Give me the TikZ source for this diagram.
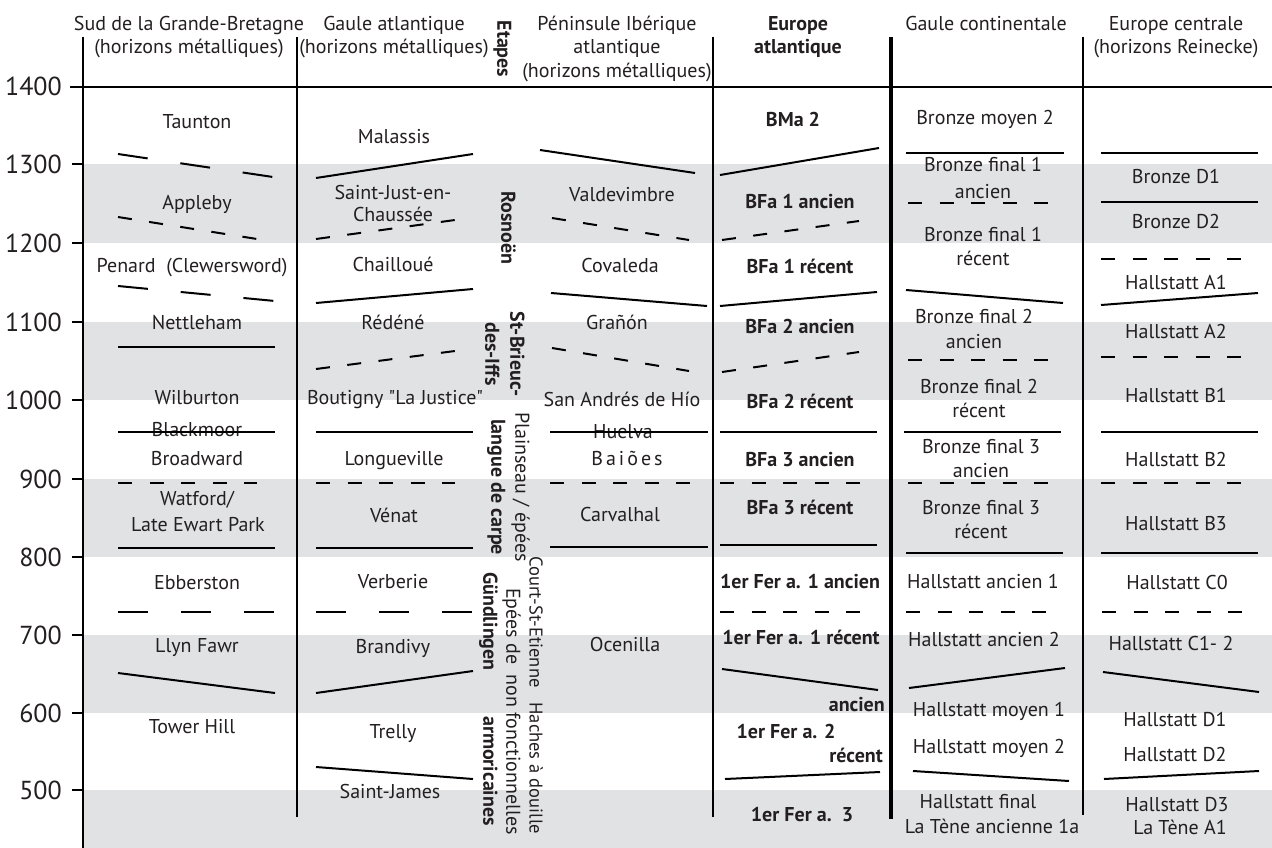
\documentclass[tikz,border=0pt]{standalone}
\usepackage{fontspec}
\setmainfont{PT Sans}[Ligatures=TeXOff]
\definecolor{txt}{RGB}{35,31,32}
\definecolor{band}{RGB}{225,226,228}
\begin{document}
\begin{tikzpicture}[x=1pt,y=-1pt,
  every node/.style={inner sep=0pt, text=txt},
  cell/.style={font=\fontsize{20}{24}\selectfont, text height=13.5pt, text depth=0pt},
  bcell/.style={font=\fontsize{20}{24}\selectfont\bfseries, text height=13.5pt, text depth=0pt},
  yr/.style={font=\fontsize{26}{30}\selectfont, text height=18pt, text depth=0pt, anchor=east},
  rot/.style={cell, rotate=-90},
  srot/.style={font=\fontsize{18.5}{22}\selectfont, text height=13pt, text depth=0pt, rotate=-90},
  brot/.style={bcell, rotate=-90},
  sepline/.style={line width=1.5pt},
  cl/.style={line width=2pt},
  ld/.style={cl, dash pattern=on 30pt off 33pt},
  sd/.style={cl, dash pattern=on 14pt off 17.5pt},
]
\useasboundingbox (0,0) rectangle (1272,848);
% grey bands
\fill[band] (84,164) rectangle (1272,243);
\fill[band] (84,322) rectangle (1272,400);
\fill[band] (84,479) rectangle (1272,557);
\fill[band] (84,635) rectangle (1272,713);
\fill[band] (84,790) rectangle (1272,848);
% axis, header line, ticks
\draw[line width=2.5pt] (83,37) -- (83,848);
\draw[line width=2.5pt] (70,87) -- (1272,87);
\foreach \yy in {164,243,322,400,479,557,635,713,790}
  \draw[line width=2.5pt] (72,\yy) -- (83,\yy);
% years
\node[yr] (y1400) at (62,87) {1400};
\node[yr] (y1300) at (62,164) {1300};
\node[yr] (y1200) at (62,243) {1200};
\node[yr] (y1100) at (62,322) {1100};
\node[yr] (y1000) at (62,400) {1000};
\node[yr] (y900) at (62,479) {900};
\node[yr] (y800) at (62,557) {800};
\node[yr] (y700) at (62,635) {700};
\node[yr] (y600) at (62,713) {600};
\node[yr] (y500) at (62,790) {500};
% column separators
\draw[sepline] (297,37) -- (297,817);
\draw[sepline] (713,37) -- (713,817);
\draw[line width=4.5pt] (891,37) -- (891,819);
\draw[sepline] (1083,37) -- (1083,815);
% headers
\node[cell] (h1a) at (189,24) {Sud de la Grande-Bretagne};
\node[cell] (h1b) at (189,47) {(horizons métalliques)};
\node[cell] (h2a) at (394,24) {Gaule atlantique};
\node[cell] (h2b) at (394,47) {(horizons métalliques)};
\node[brot] (h0) at (504,49) {Etapes};
\node[cell] (h3a) at (617,24) {Péninsule Ibérique};
\node[cell] (h3b) at (617,47) {atlantique};
\node[cell] (h3c) at (617,71) {(horizons métalliques)};
\node[bcell] (h4a) at (798,24) {Europe};
\node[bcell] (h4b) at (798,47) {atlantique};
\node[cell] (h5a) at (986,24) {Gaule continentale};
\node[cell] (h6a) at (1176,24) {Europe centrale};
\node[cell] (h6b) at (1176,47) {(horizons Reinecke)};
% ---------- column 1
\node[cell] (a1) at (197,122) {Taunton};
\draw[ld] (118,154) -- (273,177);
\node[cell] (a2) at (197,203) {Appleby};
\draw[sd] (118,217) -- (257,239);
\node[cell] (a3) at (192,266) {Penard\ \ (Clewersword)};
\draw[ld] (118,286) -- (275,301);
\node[cell] (a4) at (197,323) {Nettleham};
\draw[cl] (118,347) -- (275,347);
\node[cell] (a5) at (197,398) {Wilburton};
\node[cell] (a6) at (197,430) {Blackmoor};
\draw[cl] (118,432) -- (275,432);
\node[cell] (a7) at (197,459) {Broadward};
\draw[sd] (118,483) -- (257,483);
\node[cell] (a8) at (197,499) {Watford/};
\node[cell] (a9) at (198,525) {Late Ewart Park};
\draw[cl] (118,548) -- (275,548);
\node[cell] (a10) at (197,583) {Ebberston};
\draw[ld] (118,612) -- (275,612);
\node[cell] (a11) at (197,646) {Llyn Fawr};
\draw[cl] (118,673) -- (275,693);
\node[cell] (a12) at (192,727) {Tower Hill};
% ---------- column 2
\node[cell] (b1) at (394,137) {Malassis};
\draw[cl] (316,178) -- (473,154);
\node[cell] (b2) at (393,193) {Saint-Just-en-};
\node[cell] (b3) at (393,215) {Chaussée};
\draw[sd] (316,239) -- (455,220);
\node[cell] (b4) at (393,265) {Chailloué};
\draw[cl] (316,303) -- (473,289);
\node[cell] (b5) at (393,323) {Rédéné};
\draw[sd] (316,369) -- (455,351);
\node[cell] (b6) at (395,398) {Boutigny "La Justice"};
\draw[cl] (316,432) -- (473,432);
\node[cell] (b7) at (394,459) {Longueville};
\draw[sd] (316,483) -- (455,483);
\node[cell] (b8) at (394,516) {Vénat};
\draw[cl] (316,548) -- (473,548);
\node[cell] (b9) at (393,582) {Verberie};
\draw[ld] (316,612) -- (473,612);
\node[cell] (b10) at (393,647) {Brandivy};
\draw[cl] (316,693) -- (473,671);
\node[cell] (b11) at (393,732) {Trelly};
\draw[cl] (316,767) -- (473,779);
\node[cell] (b12) at (390,792) {Saint-James};
% ---------- etapes (rotated)
\node[brot] (e1) at (508,228) {Rosnoën};
\node[brot] (e2) at (517,354) {St-Brieuc-};
\node[brot] (e3) at (492,354) {des-Iffs};
\node[rot] (e4) at (522,487) {Plainseau / épées};
\node[brot] (e5) at (498,487) {langue de carpe};
\node[srot, anchor=west] (e6) at (536,556) {Court-St-Etienne};
\node[srot, anchor=east] (e7) at (536,834) {Haches à douille};
\node[rot, anchor=west] (e8) at (513,588) {Epées de};
\node[rot, anchor=east] (e9) at (513,835) {non fonctionnelles};
\node[brot, anchor=west] (e10) at (490,572) {Gündlingen};
\node[brot, anchor=east] (e11) at (490,826) {armoricaines};
% ---------- column 3
\draw[cl] (540,150) -- (695,173);
\node[cell] (c1) at (622,195) {Valdevimbre};
\draw[sd] (552,218) -- (689,240);
\node[cell] (c2) at (620,266) {Covaleda};
\draw[cl] (551,293) -- (707,306);
\node[cell] (c3) at (617,323) {Grañón};
\draw[sd] (552,348) -- (689,371);
\node[cell] (c4) at (622,400) {San Andrés de Hío};
\node[cell] (c5) at (623,432) {Huelva};
\draw[cl] (550,432) -- (708,432);
\node[cell] (c6) at (627,459) {B\kern3pt a\kern3pt i\kern3pt õ\kern3pt e\kern3pt s};
\draw[sd] (550,483) -- (690,483);
\node[cell] (c7) at (620,515) {Carvalhal};
\draw[cl] (550,547) -- (708,547);
\node[cell] (c8) at (625,645) {Ocenilla};
% ---------- column 4
\node[bcell] (d1) at (793,120) {BMa 2};
\draw[cl] (720,175) -- (879,148);
\node[bcell] (d2) at (800,202) {BFa 1 ancien};
\draw[sd] (722,240) -- (859,221);
\node[bcell] (d3) at (800,267) {BFa 1 récent};
\draw[cl] (720,306) -- (877,292);
\node[bcell] (d4) at (800,327) {BFa 2 ancien};
\draw[sd] (722,372) -- (859,352);
\node[bcell] (d5) at (800,402) {BFa 2 récent};
\draw[cl] (720,432) -- (877,432);
\node[bcell] (d6) at (800,460) {BFa 3 ancien};
\draw[sd] (720,483) -- (860,483);
\node[bcell] (d7) at (800,508) {BFa 3 récent};
\draw[cl] (720,545) -- (877,545);
\node[bcell] (d8) at (800,582) {1er Fer a. 1 ancien};
\draw[sd] (720,612) -- (860,612);
\node[bcell] (d9) at (801,638) {1er Fer a. 1 récent};
\draw[cl] (722,669) -- (878,690);
\node[bcell, anchor=east] (d10) at (885,705) {ancien};
\node[bcell] (d11) at (786,732) {1er Fer a. 2};
\node[bcell, anchor=east] (d12) at (883,756) {récent};
\draw[cl] (725,779) -- (880,772);
\node[bcell] (d13) at (802,815) {1er Fer a.\ \ 3};
% ---------- column 5
\node[cell] (f1) at (985,118) {Bronze moyen 2};
\draw[cl] (906,153) -- (1064,153);
\node[cell] (f2) at (983,165) {Bronze final 1};
\node[cell] (f3) at (983,191.5) {ancien};
\draw[sd] (908,203) -- (1048,203);
\node[cell] (f4) at (983,235) {Bronze final 1};
\node[cell] (f5) at (983,258.5) {récent};
\draw[cl] (906,290) -- (1063,303);
\node[cell] (f6) at (974,317) {Bronze final 2};
\node[cell] (f7) at (974,341.5) {ancien};
\draw[sd] (908,360) -- (1048,360);
\node[cell] (f8) at (979,387) {Bronze final 2};
\node[cell] (f9) at (979,410.5) {récent};
\draw[cl] (904,432) -- (1061,432);
\node[cell] (f10) at (981,447) {Bronze final 3};
\node[cell] (f11) at (981,470.5) {ancien};
\draw[sd] (908,483) -- (1048,483);
\node[cell] (f12) at (981,508) {Bronze final 3};
\node[cell] (f13) at (981,531.5) {récent};
\draw[cl] (906,553) -- (1063,553);
\node[cell] (f14) at (983,582) {Hallstatt ancien 1};
\draw[sd] (906,612) -- (1046,612);
\node[cell] (f15) at (984,640) {Hallstatt ancien 2};
\draw[cl] (909,688) -- (1065,668);
\node[cell] (f16) at (989,710) {Hallstatt moyen 1};
\node[cell] (f17) at (989,747) {Hallstatt moyen 2};
\draw[cl] (913,771) -- (1069,781);
\node[cell] (f18) at (978,802) {Hallstatt final};
\node[cell] (f19) at (992,827) {La Tène ancienne 1a};
% ---------- column 6
\draw[cl] (1101,153) -- (1258,153);
\node[cell] (g1) at (1176,177) {Bronze D1};
\draw[cl] (1101,202) -- (1258,202);
\node[cell] (g2) at (1176,222) {Bronze D2};
\draw[sd] (1101,259) -- (1241,259);
\node[cell] (g3) at (1176,283) {Hallstatt A1};
\draw[cl] (1101,305) -- (1258,293);
\node[cell] (g4) at (1176,332) {Hallstatt A2};
\draw[sd] (1101,357) -- (1241,357);
\node[cell] (g5) at (1176,396) {Hallstatt B1};
\draw[cl] (1101,432) -- (1258,432);
\node[cell] (g6) at (1176,460) {Hallstatt B2};
\draw[sd] (1101,483) -- (1241,483);
\node[cell] (g7) at (1176,524) {Hallstatt B3};
\draw[cl] (1101,553) -- (1258,553);
\node[cell] (g8) at (1177,583) {Hallstatt C0};
\draw[sd] (1102,612) -- (1242,612);
\node[cell] (g9) at (1171,644) {Hallstatt C1- 2};
\draw[cl] (1103,672) -- (1259,692);
\node[cell] (g10) at (1175,720) {Hallstatt D1};
\node[cell] (g11) at (1175,755) {Hallstatt D2};
\draw[cl] (1104,779) -- (1259,771);
\node[cell] (g12) at (1177,805) {Hallstatt D3};
\node[cell] (g13) at (1180,828) {La Tène A1};
\end{tikzpicture}
\end{document}
